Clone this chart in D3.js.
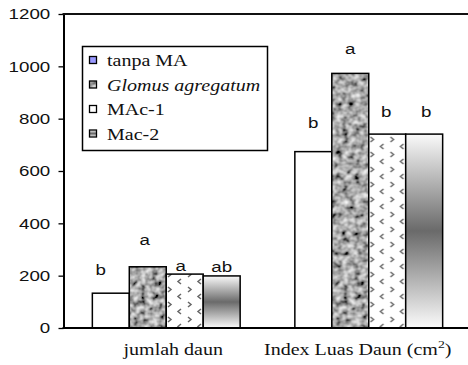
<!DOCTYPE html>
<html>
<head>
<meta charset="utf-8">
<script src="https://cdn.jsdelivr.net/npm/d3@7"></script>
<style>
  body { margin: 0; background: #fff; }
  svg { display: block; }
</style>
</head>
<body>
<div id="chart"></div>
<script>
// data
const categories = ['jumlah daun', 'Index Luas Daun'];
const series = ['tanpa MA', 'Glomus agregatum', 'MAc-1', 'Mac-2'];
const jumlahDaun = [133, 234, 206, 199];
const indexLuasDaun = [674, 973, 741, 741];
const letters = [['b', 'a', 'a', 'ab'], ['b', 'a', 'b', 'b']];
const yTicks = [0, 200, 400, 600, 800, 1000, 1200];

const values = [jumlahDaun, indexLuasDaun];

const width = 468;
const height = 365;
const stretch = 1.25; // the original picture is stretched sideways

const svg = d3.select('#chart')
  .append('svg')
  .attr('width', width)
  .attr('height', height);

const defs = svg.append('defs');

// mottled grey texture for Glomus
const noise = defs.append('filter')
  .attr('id', 'noise')
  .attr('x', 0).attr('y', 0).attr('width', '100%').attr('height', '100%');
noise.append('feTurbulence')
  .attr('type', 'fractalNoise')
  .attr('baseFrequency', 0.16)
  .attr('numOctaves', 2)
  .attr('seed', 5);
noise.append('feColorMatrix')
  .attr('type', 'matrix')
  .attr('values', '1.3 0 0 0 -0.25  1.3 0 0 0 -0.25  1.3 0 0 0 -0.25  0 0 0 0 1');

const glomus = defs.append('pattern')
  .attr('id', 'glomus')
  .attr('patternUnits', 'userSpaceOnUse')
  .attr('width', 468).attr('height', 365);
glomus.append('rect')
  .attr('width', 468).attr('height', 365)
  .attr('filter', 'url(#noise)');

// chevrons for MAc-1
const chev = defs.append('pattern')
  .attr('id', 'chev')
  .attr('patternUnits', 'userSpaceOnUse')
  .attr('width', 20).attr('height', 15);
chev.append('rect').attr('width', 20).attr('height', 15).attr('fill', '#fff');
chev.append('path')
  .attr('d', 'M3,2 L6,4.5 L3,7 M16,9 L13,11.5 L16,14')
  .attr('fill', 'none')
  .attr('stroke', '#666')
  .attr('stroke-width', 1.5);

// shaded band for Mac-2
const grad = defs.append('linearGradient')
  .attr('id', 'shade')
  .attr('x1', 0).attr('y1', 0).attr('x2', 0).attr('y2', 1);
grad.append('stop').attr('offset', '0%').attr('stop-color', '#fafafa');
grad.append('stop').attr('offset', '50%').attr('stop-color', '#6a6a6a');
grad.append('stop').attr('offset', '100%').attr('stop-color', '#fbfbfb');

const barFill = ['#fff', 'url(#glomus)', 'url(#chev)', 'url(#shade)'];
const keyFill = ['#9999ff', 'url(#glomus)', '#fff', 'url(#shade)'];

// scales
const y = d3.scaleLinear().domain([0, 1200]).range([328, 14]);
const x0 = d3.scaleBand().domain(categories).range([65, 470]).paddingInner(0).paddingOuter(0);
const x1 = d3.scaleBand().domain(series).range([0, x0.bandwidth()]).paddingInner(0).paddingOuter(0.74);

// helper for the stretched text
const stretched = (sel, tx, ty) => sel
  .attr('x', 0).attr('y', 0)
  .attr('transform', `translate(${tx},${ty}) scale(${stretch},1)`);

// bars
const groups = svg.append('g')
  .selectAll('g')
  .data(categories)
  .join('g')
  .attr('transform', (d) => `translate(${x0(d)},0)`);

groups.selectAll('rect')
  .data((d, i) => values[i].map((v, j) => ({ v, j })))
  .join('rect')
  .attr('x', (d) => x1(series[d.j]))
  .attr('y', (d) => y(d.v))
  .attr('width', x1.bandwidth())
  .attr('height', (d) => y(0) - y(d.v))
  .attr('fill', (d) => barFill[d.j])
  .attr('stroke', '#000')
  .attr('stroke-width', 1.5);

// significance letters (small nudges to sit like the original)
const nudge = [[[-10, 18], [-3, 22], [-4, 3], [0, 4]], [[0, 24], [0, 19], [-1, 17], [2, 17]]];
groups.each(function (c, i) {
  d3.select(this).selectAll('text')
    .data(letters[i])
    .join('text')
    .attr('text-anchor', 'middle')
    .attr('font-family', 'Liberation Sans, Arial, sans-serif')
    .attr('font-size', 15)
    .attr('fill', '#111')
    .text((d) => d)
    .each(function (d, j) {
      const cx = x1(series[j]) + x1.bandwidth() / 2 + nudge[i][j][0];
      stretched(d3.select(this), cx, y(values[i][j]) - nudge[i][j][1]);
    });
});

// y axis
const yAxis = svg.append('g')
  .attr('transform', 'translate(63.5,0)')
  .call(d3.axisLeft(y).tickValues(yTicks).tickSize(5).tickSizeOuter(0).tickFormat(d3.format('d')));
yAxis.select('.domain').attr('stroke', '#000').attr('stroke-width', 2);
yAxis.selectAll('.tick line').attr('stroke', '#000').attr('stroke-width', 1.3);
yAxis.selectAll('.tick text')
  .attr('font-family', 'Liberation Sans, Arial, sans-serif')
  .attr('font-size', 15)
  .attr('fill', '#111')
  .attr('x', -10.6)
  .attr('transform', `scale(${stretch},1)`);

// top border and base line
svg.append('line')
  .attr('x1', 62.5).attr('x2', width)
  .attr('y1', y(1200)).attr('y2', y(1200))
  .attr('stroke', '#111').attr('stroke-width', 2);
svg.append('line')
  .attr('x1', 62.5).attr('x2', width)
  .attr('y1', y(0)).attr('y2', y(0))
  .attr('stroke', '#000').attr('stroke-width', 2);

// category labels
const catShift = [7, -11];
categories.forEach((c, i) => {
  const t = svg.append('text')
    .attr('text-anchor', 'middle')
    .attr('font-family', 'Liberation Serif, Times New Roman, serif')
    .attr('font-size', 16)
    .attr('fill', '#111');
  stretched(t, x0(c) + x0.bandwidth() / 2 + catShift[i], 355);
  if (i === 1) {
    t.append('tspan').text(c + ' (cm');
    t.append('tspan').attr('dy', -7).attr('font-size', 11).text('2');
    t.append('tspan').attr('dy', 7).text(')');
  } else {
    t.text(c);
  }
});

// legend
const legend = svg.append('g');
legend.append('rect')
  .attr('x', 82.5).attr('y', 46.5)
  .attr('width', 185).attr('height', 104)
  .attr('fill', '#fff')
  .attr('stroke', '#000')
  .attr('stroke-width', 1.5);

const rows = legend.selectAll('g.row')
  .data(series)
  .join('g')
  .attr('class', 'row')
  .attr('transform', (d, i) => `translate(0,${60 + i * 24.5})`);

rows.append('rect')
  .attr('x', 89.5).attr('y', -3.5)
  .attr('width', 7).attr('height', 7)
  .attr('fill', (d, i) => keyFill[i])
  .attr('stroke', '#000')
  .attr('stroke-width', 1.3);

rows.append('text')
  .attr('font-family', 'Liberation Serif, Times New Roman, serif')
  .attr('font-size', 16)
  .attr('font-style', (d, i) => (i === 1 ? 'italic' : 'normal'))
  .attr('fill', '#111')
  .text((d) => d)
  .each(function () { stretched(d3.select(this), 107, 6); });
</script>
</body>
</html>
